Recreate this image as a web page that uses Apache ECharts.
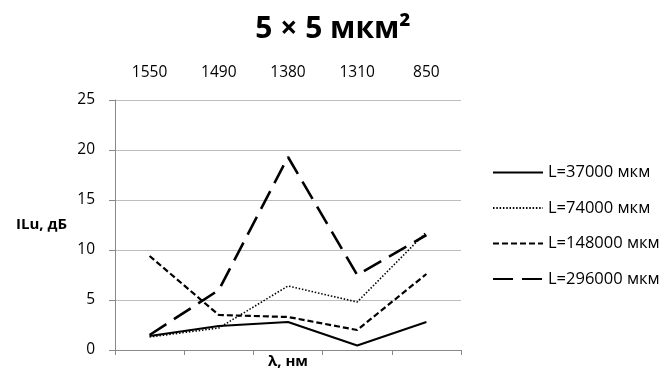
<!DOCTYPE html>
<html>
<head>
<meta charset="utf-8">
<script src="https://cdn.jsdelivr.net/npm/echarts@6/dist/echarts.min.js"></script>
<style>html,body{margin:0;padding:0;background:#fff}#c{width:666px;height:373px}</style>
</head>
<body>
<div id="c"></div>
<script>
const categories = ['1550', '1490', '1380', '1310', '850'];
const seriesNames = ['L=37000 мкм', 'L=74000 мкм', 'L=148000 мкм', 'L=296000 мкм'];
const s37000 = [1.4, 2.4, 2.8, 0.45, 2.8];
const s74000 = [1.3, 2.2, 6.4, 4.8, 11.8];
const s148000 = [9.4, 3.5, 3.3, 2.0, 7.6];
const s296000 = [1.5, 6.0, 19.3, 7.5, 11.5];
const yTicks = [0, 5, 10, 15, 20, 25];

const FONT = 'Open Sans';
const chart = echarts.init(document.getElementById('c'), null, {renderer: 'canvas'});
const styles = [
  {width: 2, type: 'solid'},
  {width: 1.6, type: [1.5, 1.8]},
  {width: 2.2, type: [6, 3]},
  {width: 2.6, type: [20, 9]}
];
const dataArr = [s37000, s74000, s148000, s296000];
chart.setOption({
  animation: false,
  backgroundColor: '#fff',
  title: {
    text: '5 × 5 мкм²', left: 'center', top: 9,
    textStyle: {fontFamily: FONT, fontWeight: 'bold', fontSize: 30, color: '#000'}
  },
  grid: {left: 115, right: 205, top: 100, bottom: 23, containLabel: false, outerBoundsMode: 'none'},
  legend: {
    orient: 'vertical', left: 492, top: 164, padding: 0,
    itemWidth: 50, itemHeight: 16, itemGap: 18.5,
    itemStyle: {opacity: 0},
    textStyle: {fontFamily: FONT, fontSize: 16.5, color: '#000'},
    data: seriesNames
  },
  xAxis: [{
    type: 'category', data: categories, position: 'bottom', boundaryGap: true,
    axisLine: {lineStyle: {color: '#888'}},
    axisTick: {show: true, length: 5, lineStyle: {color: '#888'}},
    axisLabel: {show: false},
    name: 'λ, нм', nameLocation: 'middle', nameGap: 4,
    nameTextStyle: {fontFamily: FONT, fontWeight: 'bold', fontSize: 15, color: '#000'}
  }, {
    type: 'category', data: categories, position: 'top', boundaryGap: true,
    axisLine: {show: false}, axisTick: {show: false},
    axisLabel: {show: true, margin: 19, fontFamily: FONT, fontSize: 15.5, color: '#000'}
  }],
  yAxis: {
    type: 'value', min: yTicks[0], max: yTicks[yTicks.length - 1], interval: 5,
    axisLine: {show: true, lineStyle: {color: '#888'}},
    axisTick: {show: true, length: 6, lineStyle: {color: '#888'}},
    splitLine: {lineStyle: {color: '#bdbdbd', width: 1}},
    axisLabel: {margin: 20, fontFamily: FONT, fontSize: 15.5, color: '#000'},
    name: 'ILu, дБ', nameLocation: 'middle', nameRotate: 0, nameGap: 48,
    nameTextStyle: {fontFamily: FONT, fontWeight: 'bold', fontSize: 15, color: '#000', padding: [8, 0, 0, 0]}
  },
  series: seriesNames.map((n, i) => ({
    name: n, type: 'line', xAxisIndex: 0, data: dataArr[i],
    symbol: 'none', showSymbol: false,
    itemStyle: {color: '#000'},
    lineStyle: Object.assign({color: '#000'}, styles[i])
  }))
});
</script>
</body>
</html>
